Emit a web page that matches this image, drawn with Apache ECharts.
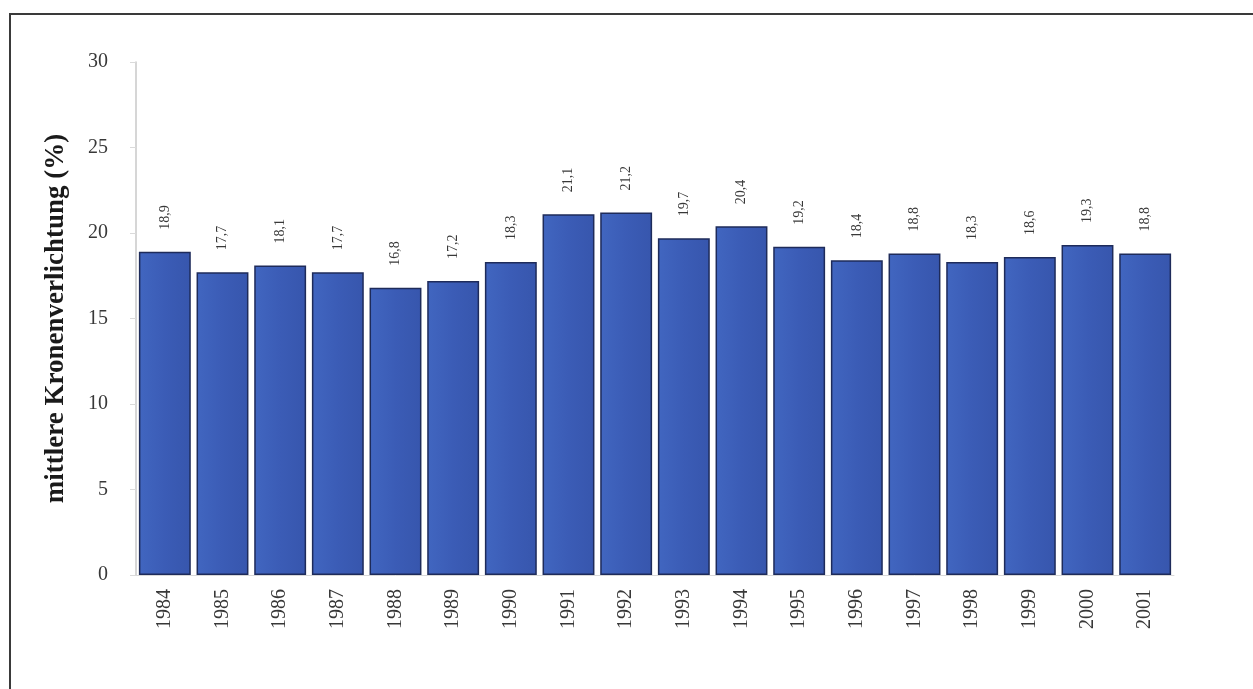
<!DOCTYPE html>
<html>
<head>
<meta charset="utf-8">
<script src="https://cdn.jsdelivr.net/npm/echarts@6/dist/echarts.min.js"></script>
<style>
  html, body { margin: 0; padding: 0; background: #ffffff; }
  #chart { width: 1253px; height: 689px; }
</style>
</head>
<body>
<div id="chart"></div>
<script>
// Mittlere Kronenverlichtung je Erhebungsjahr
const years = ['1984','1985','1986','1987','1988','1989','1990','1991','1992',
               '1993','1994','1995','1996','1997','1998','1999','2000','2001'];
const crownLoss = [18.9, 17.7, 18.1, 17.7, 16.8, 17.2, 18.3, 21.1, 21.2,
                   19.7, 20.4, 19.2, 18.4, 18.8, 18.3, 18.6, 19.3, 18.8];
const yTicks = [0, 5, 10, 15, 20, 25, 30];

const serif = '"Liberation Serif", "DejaVu Serif", serif';
const chart = echarts.init(document.getElementById('chart'));

chart.setOption({
  backgroundColor: '#ffffff',
  animation: false,
  graphic: [{
    type: 'rect',
    shape: { x: 10, y: 14, width: 1270, height: 700 },
    style: { fill: 'none', stroke: '#3a3a3a', lineWidth: 2 },
    silent: true
  }],
  grid: { left: 136, right: 79, top: 62, bottom: 114 },
  xAxis: {
    type: 'category',
    data: years,
    axisLine: { show: true, lineStyle: { color: '#d8d8d8', width: 1 } },
    axisTick: { show: false },
    axisLabel: {
      rotate: 90, margin: 14, fontFamily: serif, fontSize: 20, color: '#383838'
    }
  },
  yAxis: {
    type: 'value',
    min: yTicks[0],
    max: yTicks[yTicks.length - 1],
    interval: yTicks[1] - yTicks[0],
    name: 'mittlere Kronenverlichtung (%)',
    nameLocation: 'middle',
    nameRotate: 90,
    nameGap: 66,
    nameTextStyle: { fontFamily: serif, fontSize: 27, fontWeight: 'bold', color: '#1a1a1a' },
    axisLine: { show: true, lineStyle: { color: '#c8c8c8', width: 1.5 } },
    axisTick: { show: true, length: 6, lineStyle: { color: '#dadada' } },
    splitLine: { show: false },
    axisLabel: {
      margin: 28, fontFamily: serif, fontSize: 20, color: '#383838',
      formatter: v => String(v)
    }
  },
  series: [{
    type: 'bar',
    data: crownLoss,
    barCategoryGap: '10%',
    itemStyle: {
      color: new echarts.graphic.LinearGradient(0, 0, 1, 0, [
        { offset: 0, color: '#4166c0' },
        { offset: 0.5, color: '#3b5cb6' },
        { offset: 1, color: '#3756ad' }
      ]),
      borderColor: '#1e2b5a',
      borderWidth: 1.5
    },
    label: {
      show: true,
      position: 'top',
      rotate: 90,
      align: 'left',
      verticalAlign: 'middle',
      distance: 22,
      fontFamily: serif,
      fontSize: 14,
      color: '#383838',
      formatter: p => p.value.toFixed(1).replace('.', ',')
    }
  }]
});
</script>
</body>
</html>
